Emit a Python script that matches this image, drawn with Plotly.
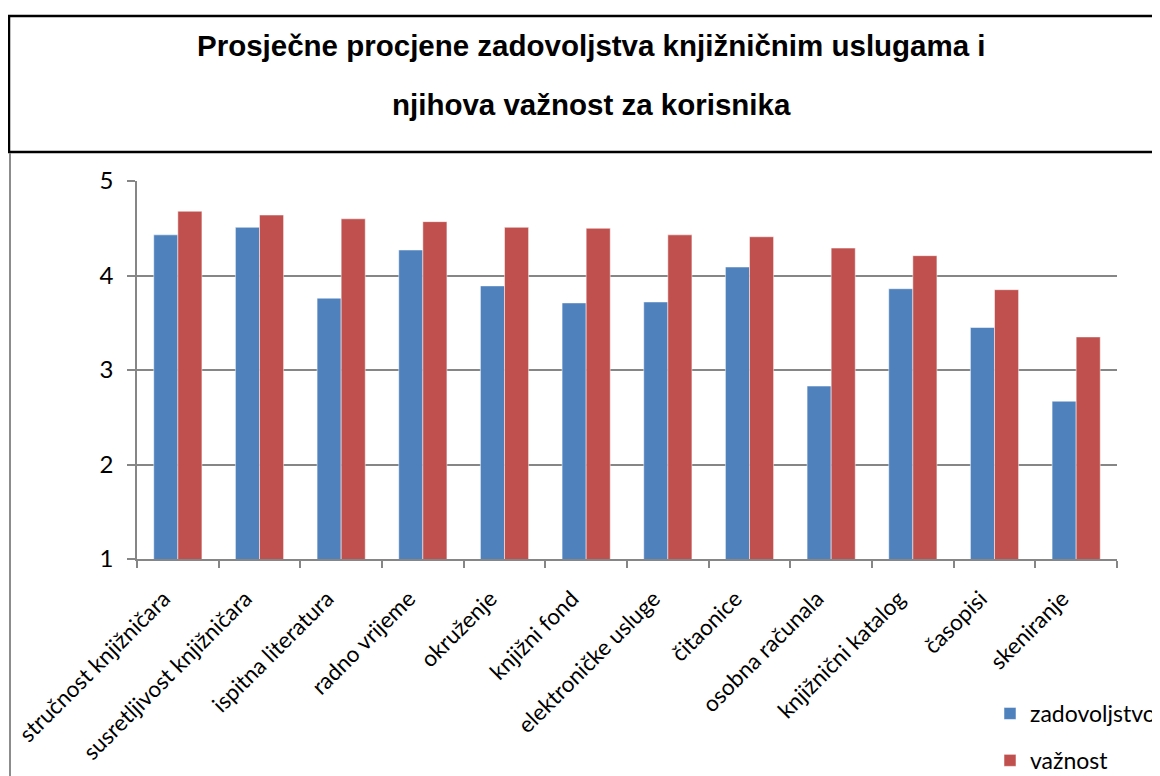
import plotly.graph_objects as go

categories = [
    "stručnost knjižničara", "susretljivost knjižničara", "ispitna literatura",
    "radno vrijeme", "okruženje", "knjižni fond", "elektroničke usluge",
    "čitaonice", "osobna računala", "knjižnični katalog", "časopisi", "skeniranje",
]
zadovoljstvo = [4.43, 4.51, 3.76, 4.27, 3.89, 3.71, 3.72, 4.09, 2.83, 3.86, 3.45, 2.67]
vaznost = [4.68, 4.64, 4.60, 4.57, 4.51, 4.50, 4.43, 4.41, 4.29, 4.21, 3.85, 3.35]
series_names = ["zadovoljstvo", "važnost"]
y_ticks = [1, 2, 3, 4, 5]
title_lines = ["Prosječne procjene zadovoljstva knjižničnim uslugama i",
               "njihova važnost za korisnika"]

OFF = 8  # page body margin
W, H = 1160 - OFF, 776 - OFF
# plot area in page pixels: x 137..1117, y 181..559
L = 137 - OFF
R = W - (1117 - OFF)
T = 181 - OFF
B = H - (559 - OFF)
pw, ph = W - L - R, H - T - B

def px(x):
    return (x - OFF - L) / pw

def py(y):
    return (H - B - (y - OFF)) / ph

FONT = "Lato, Carlito, Calibri, sans-serif"
grid = "#868686"

fig = go.Figure()
fig.add_trace(go.Bar(x=categories, y=zadovoljstvo, name=series_names[0], legendgroup="a",
                     marker=dict(color="#4F81BD", line=dict(color="rgba(255,255,255,0.5)", width=1))))
fig.add_trace(go.Bar(x=categories, y=vaznost, name=series_names[1], legendgroup="b",
                     marker=dict(color="#C0504D", line=dict(color="rgba(255,255,255,0.5)", width=1))))

fig.update_layout(
    width=W, height=H,
    margin=dict(l=L, r=R, t=T, b=B, autoexpand=False),
    paper_bgcolor="white", plot_bgcolor="white",
    barmode="group", bargap=0.41, bargroupgap=0,
    showlegend=True,
    legend=dict(x=px(990), y=py(692), xanchor="left", yanchor="top",
                font=dict(family=FONT, size=23, color="#000000"),
                tracegroupgap=14, traceorder="grouped", bgcolor="rgba(0,0,0,0)"),
    xaxis=dict(type="category", tickangle=-45, tickfont=dict(family=FONT, size=22.5, color="#000000"),
               showline=True, linecolor=grid, linewidth=1.5,
               ticks="outside", tickson="boundaries", ticklen=7, tickcolor=grid, tickwidth=1.5,
               ticklabelshift=-14, ticklabelstandoff=16,
               showgrid=False),
    yaxis=dict(range=[1, 5], tickvals=y_ticks, tickfont=dict(family=FONT, size=24, color="#000000"),
               showline=True, linecolor=grid, linewidth=1.5,
               ticks="outside", ticklen=8, tickcolor=grid, tickwidth=1.5, ticklabelstandoff=9,
               showgrid=True, gridcolor=grid, gridwidth=1.5, zeroline=False),
)

# title box and chart-area border
fig.add_shape(type="rect", xref="paper", yref="paper",
              x0=px(9), x1=px(1180), y0=py(16), y1=py(152),
              line=dict(color="black", width=2.5), fillcolor="white", layer="below")
fig.add_shape(type="line", xref="paper", yref="paper",
              x0=px(10), x1=px(10), y0=py(153), y1=py(790),
              line=dict(color="#8c8c8c", width=2))

for line, ypix in zip(title_lines, [46, 104]):
    fig.add_annotation(text=f"<b>{line}</b>", xref="paper", yref="paper",
                       x=px(591), y=py(ypix), xanchor="center", yanchor="middle",
                       showarrow=False,
                       font=dict(family="Liberation Sans, Arial, sans-serif", size=29.5, color="black"))

fig.write_html("out.html")
